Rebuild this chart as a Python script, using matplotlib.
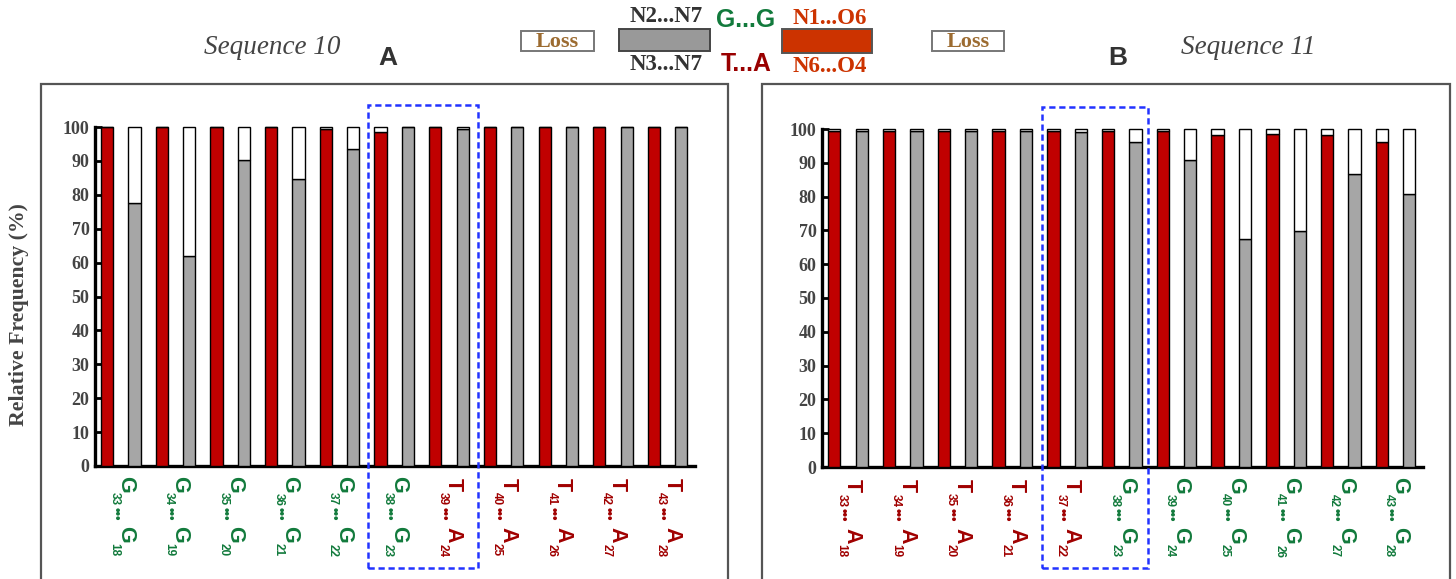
import matplotlib
matplotlib.use("Agg")
import matplotlib.pyplot as plt
from matplotlib.patches import Rectangle

# ---------------- data ----------------
labels_a = [("G", 33, "G", 18), ("G", 34, "G", 19), ("G", 35, "G", 20), ("G", 36, "G", 21),
            ("G", 37, "G", 22), ("G", 38, "G", 23), ("T", 39, "A", 24), ("T", 40, "A", 25),
            ("T", 41, "A", 26), ("T", 42, "A", 27), ("T", 43, "A", 28)]
red_a = [100, 100, 100, 100, 99.5, 98.5, 100, 100, 100, 100, 100]
gray_a = [77.5, 62, 90.2, 84.6, 93.6, 100, 99.3, 100, 100, 100, 100]
highlight_a = (5, 6)

labels_b = [("T", 33, "A", 18), ("T", 34, "A", 19), ("T", 35, "A", 20), ("T", 36, "A", 21),
            ("T", 37, "A", 22), ("G", 38, "G", 23), ("G", 39, "G", 24), ("G", 40, "G", 25),
            ("G", 41, "G", 26), ("G", 42, "G", 27), ("G", 43, "G", 28)]
red_b = [99.5, 99.5, 99.5, 99.5, 99.5, 99.3, 99.3, 98.2, 98.4, 98.2, 96.3]
gray_b = [99.5, 99.5, 99.3, 99.3, 99.2, 96.3, 90.7, 67.4, 69.7, 86.6, 80.8]
highlight_b = (4, 5)

yticks = list(range(0, 101, 10))

# ---------------- style ----------------
RED = "#c00000"
GRAY = "#a6a6a6"
GREEN = "#127a3c"
DRED = "#a00000"
TXT = "#444444"
W, H = 1456, 579
PX = 0.72  # points per pixel at dpi 100
SANS = "Liberation Sans"
SERIF = "Liberation Serif"

fig = plt.figure(figsize=(W / 100, H / 100), dpi=100)


def fx(px):
    return px / W


def fy(py):
    return 1 - py / H


def pair_label(ax, x, a, i1, b, i2):
    col = GREEN if a == "G" else DRED
    # (text, across offset px, along offset px, fontsize)
    parts = [(a, 18, 18.5, 15.5), (str(i1), 7, 33, 8.5), ("\u2022\u2022\u2022", 8, 47.5, 9.5),
             (b, 18, 68.5, 15.5), (str(i2), 7, 84, 8.5)]
    for txt, dx, dy, fs in parts:
        ax.annotate(txt, xy=(x, 0), xycoords=("data", "axes fraction"),
                    xytext=(dx * PX, -dy * PX), textcoords="offset points",
                    rotation=-90, ha="center", va="center", fontsize=fs,
                    fontfamily=SANS, fontweight="bold", color=col, annotation_clip=False)


def panel(rect, labels, red, gray, hl, box_pad):
    ax = fig.add_axes(rect)
    n = len(labels)
    xr = [2 * i for i in range(n)]
    xg = [2 * i + 1 for i in range(n)]
    bw = 0.45
    kw = dict(width=bw, edgecolor="black", linewidth=1.0, clip_on=False, zorder=3)
    ax.bar(xr, red, color=RED, **kw)
    ax.bar(xr, [100 - v for v in red], bottom=red, color="white", **kw)
    ax.bar(xg, gray, color=GRAY, **kw)
    ax.bar(xg, [100 - v for v in gray], bottom=gray, color="white", **kw)
    ax.set_xlim(-0.45, 2 * n - 0.5)
    ax.set_ylim(0, 100)
    for s in ("top", "right"):
        ax.spines[s].set_visible(False)
    for s in ("left", "bottom"):
        ax.spines[s].set_linewidth(2.4)
    ax.set_yticks(yticks)
    ax.set_yticklabels([str(t) for t in yticks], fontfamily=SERIF,
                       fontweight="bold", fontsize=13, color=TXT)
    ax.tick_params(axis="y", direction="in", length=5, width=2, pad=4)
    ax.set_xticks([])
    for i, (a, i1, b, i2) in enumerate(labels):
        pair_label(ax, xr[i], a, i1, b, i2)
    # highlight box
    x0 = 2 * hl[0] - box_pad[0]
    x1 = 2 * hl[1] + 1 + box_pad[1]
    ax.add_patch(Rectangle((x0, -30), x1 - x0, 136.5, fill=False, edgecolor="#2233ff",
                           linewidth=1.8, linestyle=(0, (2.5, 1.5)), clip_on=False, zorder=5))
    return ax


ax1 = panel([fx(95), 113 / H, 600 / W, 339 / H], labels_a, red_a, gray_a, highlight_a, (0.45, 0.56))
ax2 = panel([fx(822), 112 / H, 601 / W, 338 / H], labels_b, red_b, gray_b, highlight_b, (0.4, 0.45))

fig.text(fx(19), fy(315), "Relative Frequency (%)", fontfamily=SERIF, fontweight="bold",
         fontsize=15.7, color=TXT, rotation=90, ha="center", va="center")

# frames
for x0, x1 in [(41, 728), (762, 1450)]:
    fig.patches.append(Rectangle((fx(x0), -0.02), fx(x1) - fx(x0), fy(84) + 0.02, fill=False,
                                 edgecolor="#555555", linewidth=1.6, transform=fig.transFigure))

# titles
fig.text(fx(272), fy(48), "Sequence 10", fontfamily=SERIF, style="italic", fontsize=19.5,
         color=TXT, ha="center", va="center")
fig.text(fx(1248), fy(48), "Sequence 11", fontfamily=SERIF, style="italic", fontsize=19.5,
         color=TXT, ha="center", va="center")
fig.text(fx(388), fy(58), "A", fontfamily=SANS, fontweight="bold", fontsize=19,
         color="#333333", ha="center", va="center")
fig.text(fx(1118), fy(58), "B", fontfamily=SANS, fontweight="bold", fontsize=19,
         color="#333333", ha="center", va="center")

# legend
for x0, x1 in [(521, 594), (932, 1004)]:
    fig.patches.append(Rectangle((fx(x0), fy(51)), fx(x1) - fx(x0), fy(31) - fy(51),
                                 facecolor="white", edgecolor="#777777", linewidth=1.4,
                                 transform=fig.transFigure))
    fig.text(fx((x0 + x1) / 2), fy(42), "Loss", fontfamily=SERIF, fontweight="bold",
             fontsize=16, color="#9c6b30", ha="center", va="center")
fig.patches.append(Rectangle((fx(619), fy(51)), fx(710) - fx(619), fy(29) - fy(51),
                             facecolor="#999999", edgecolor="#444444", linewidth=1.4,
                             transform=fig.transFigure))
fig.patches.append(Rectangle((fx(782), fy(53)), fx(872) - fx(782), fy(29) - fy(53),
                             facecolor="#cc3300", edgecolor="#555555", linewidth=1.4,
                             transform=fig.transFigure))
fig.text(fx(666), fy(17), "N2...N7", fontfamily=SERIF, fontweight="bold", fontsize=16.5,
         color="#333333", ha="center", va="center")
fig.text(fx(666), fy(64), "N3...N7", fontfamily=SERIF, fontweight="bold", fontsize=16.5,
         color="#333333", ha="center", va="center")
fig.text(fx(830), fy(18), "N1...O6", fontfamily=SERIF, fontweight="bold", fontsize=16.5,
         color="#cc3300", ha="center", va="center")
fig.text(fx(830), fy(67), "N6...O4", fontfamily=SERIF, fontweight="bold", fontsize=16.5,
         color="#cc3300", ha="center", va="center")
fig.text(fx(746), fy(20), "G...G", fontfamily=SANS, fontweight="bold", fontsize=17.8,
         color=GREEN, ha="center", va="center")
fig.text(fx(746), fy(64), "T...A", fontfamily=SANS, fontweight="bold", fontsize=17.8,
         color="#990000", ha="center", va="center")

fig.savefig("out.png", dpi=100)
